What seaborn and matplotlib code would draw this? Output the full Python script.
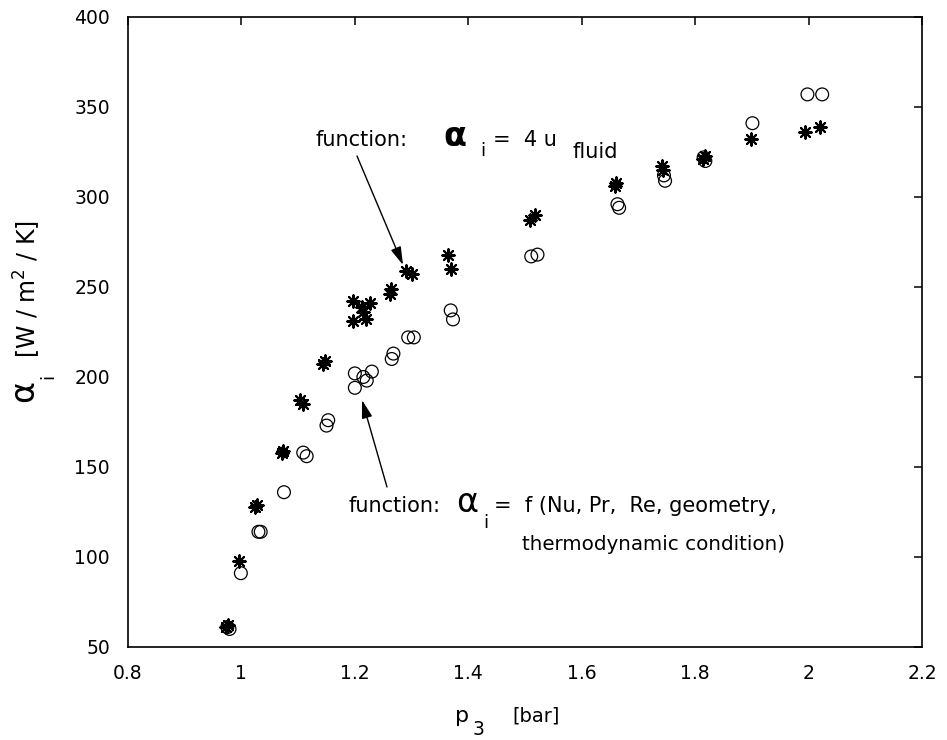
import matplotlib
matplotlib.use("Agg")
import matplotlib.pyplot as plt
import seaborn as sns
import pandas as pd
import numpy as np

# ---- data ----
star_p = [0.972, 0.977, 0.995, 1.024, 1.027, 1.072, 1.074, 1.104, 1.109, 1.144, 1.148,
          1.197, 1.212, 1.227, 1.214, 1.197, 1.219, 1.263, 1.262, 1.291, 1.300,
          1.365, 1.369, 1.508, 1.518, 1.659, 1.661, 1.741, 1.743, 1.814, 1.818,
          1.898, 1.994, 2.020]
star_a = [61, 62, 98, 128, 129, 158, 159, 187, 185, 207, 209,
          242, 239, 241, 236, 231, 232, 249, 246, 259, 257,
          268, 260, 287, 290, 306, 308, 317, 315, 321, 323,
          332, 336, 339]

circ_p = [0.975, 0.979, 0.999, 1.030, 1.034, 1.075, 1.109, 1.115, 1.150, 1.153,
          1.200, 1.215, 1.230, 1.221, 1.200, 1.268, 1.265, 1.294, 1.304,
          1.369, 1.373, 1.511, 1.522, 1.663, 1.666, 1.745, 1.747, 1.815, 1.818,
          1.901, 1.998, 2.024]
circ_a = [61, 60, 91, 114, 114, 136, 158, 156, 173, 176,
          202, 200, 203, 198, 194, 213, 210, 222, 222,
          237, 232, 267, 268, 296, 294, 312, 309, 322, 320,
          341, 357, 357]

x_ticks = [0.8, 1.0, 1.2, 1.4, 1.6, 1.8, 2.0, 2.2]
x_ticklabels = ["0.8", "1", "1.2", "1.4", "1.6", "1.8", "2", "2.2"]
y_ticks = [50, 100, 150, 200, 250, 300, 350, 400]

stars = pd.DataFrame({"p": star_p, "alpha": star_a})
circles = pd.DataFrame({"p": circ_p, "alpha": circ_a})

sns.set_theme(style="white")
plt.rcParams["font.family"] = ["DejaVu Sans"]
plt.rcParams["mathtext.fontset"] = "dejavusans"
plt.rcParams["text.color"] = "black"

W, H = 947, 740
fig = plt.figure(figsize=(W / 100, H / 100), dpi=100)
ax = fig.add_axes([128 / W, 1 - 647 / H, (922 - 128) / W, (647 - 17) / H])


def P(x, y):
    return (x / W, 1 - y / H)


sns.scatterplot(data=circles, x="p", y="alpha", ax=ax, marker="o", s=85,
                facecolor="none", edgecolor="black", linewidth=0.9, zorder=3)
sns.scatterplot(data=stars, x="p", y="alpha", ax=ax, marker=(8, 2, 0), s=80,
                color="black", edgecolor="black", linewidth=1.5, zorder=3)

ax.set_xlim(0.8, 2.2)
ax.set_ylim(50, 400)
ax.set_xticks(x_ticks)
ax.set_xticklabels(x_ticklabels)
ax.set_yticks(y_ticks)
ax.set_xlabel("")
ax.set_ylabel("")
for sp in ax.spines.values():
    sp.set_visible(True)
    sp.set_linewidth(1.2)
    sp.set_color("black")
ax.tick_params(axis="both", which="major", direction="in", length=6, width=1.1,
               top=True, right=True, labelsize=13.5, colors="black",
               labelcolor="black")
ax.tick_params(axis="x", pad=12)
ax.tick_params(axis="y", pad=13)

# axis labels
fig.text(*P(24, 391), "α", rotation=90, fontsize=24, ha="center", va="center")
fig.text(*P(48, 376), "i", rotation=90, fontsize=13, ha="center", va="center")
fig.text(*P(27, 289), "[W / m$^{2}$ / K]", rotation=90, fontsize=17,
         ha="center", va="center")
fig.text(*P(455, 722), "p", fontsize=16, ha="left", va="baseline")
fig.text(*P(473, 735), "3", fontsize=13.5, ha="left", va="baseline")
fig.text(*P(512, 722), "[bar]", fontsize=14, ha="left", va="baseline")

# annotation 1
fig.text(*P(316, 146), "function:", fontsize=15, ha="left", va="baseline")
fig.text(*P(443, 146), "α", fontsize=24, fontweight="bold", ha="left", va="baseline")
fig.text(*P(480, 156), "i", fontsize=13, ha="left", va="baseline")
fig.text(*P(493, 146), "=  4 u", fontsize=15, ha="left", va="baseline")
fig.text(*P(572, 158), "fluid", fontsize=15, ha="left", va="baseline")
ax.annotate("", xy=P(403, 265), xytext=P(357, 156),
            xycoords="figure fraction", textcoords="figure fraction",
            arrowprops=dict(arrowstyle="-|>,head_length=0.55,head_width=0.16",
                            mutation_scale=20, lw=1.0, color="black",
                            shrinkA=0, shrinkB=0))

# annotation 2
fig.text(*P(348, 512), "function:", fontsize=15, ha="left", va="baseline")
fig.text(*P(456, 512), "α", fontsize=24, ha="left", va="baseline")
fig.text(*P(483, 528), "i", fontsize=13, ha="left", va="baseline")
fig.text(*P(494, 512), "=  f (Nu, Pr,  Re, geometry,", fontsize=15, ha="left",
         va="baseline")
fig.text(*P(522, 550), "thermodynamic condition)", fontsize=14.3, ha="left",
         va="baseline")
ax.annotate("", xy=P(362, 400), xytext=P(387, 487),
            xycoords="figure fraction", textcoords="figure fraction",
            arrowprops=dict(arrowstyle="-|>,head_length=0.55,head_width=0.16",
                            mutation_scale=20, lw=1.0, color="black",
                            shrinkA=0, shrinkB=0))

fig.savefig("out.png", dpi=100)
